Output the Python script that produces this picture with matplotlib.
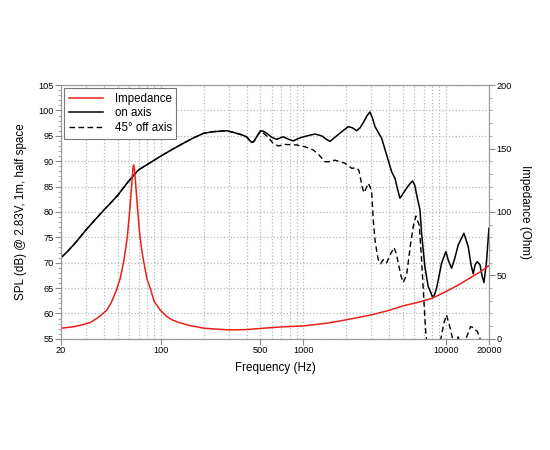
import numpy as np
import matplotlib
matplotlib.use('Agg')
import matplotlib.pyplot as plt
from matplotlib.ticker import FixedLocator, MultipleLocator, NullFormatter

plt.rcParams['font.family'] = ['Liberation Sans', 'DejaVu Sans']

# on axis SPL (dB)
freq_on = [20, 22, 25, 30, 35, 40, 45, 50, 57, 64, 70, 80, 90, 100, 120, 150, 170,
           200, 230, 260, 290, 330, 370, 400, 420, 434, 450, 475, 501, 525, 553,
           600, 650, 690, 723, 790, 850, 910, 972, 1100, 1206, 1343, 1450, 1535,
           1680, 1854, 2065, 2200, 2362, 2500, 2632, 2800, 2930, 3050, 3178, 3540,
           3838, 4160, 4390, 4600, 4757, 5016, 5295, 5600, 5836, 6050, 6226, 6568,
           6740, 7110, 7500, 7800, 8050, 8300, 8590, 9310, 9980, 10400, 10940,
           11500, 12180, 13350, 14300, 15000, 15520, 16000, 16550, 17300, 17900,
           18450, 19200, 20000]
spl_on = [71.0, 72.1, 73.8, 76.5, 78.6, 80.4, 81.9, 83.3, 85.4, 87.1, 88.3, 89.3,
          90.2, 91.0, 92.3, 93.8, 94.6, 95.5, 95.8, 95.9, 96.0, 95.6, 95.2, 94.8,
          94.1, 93.7, 93.9, 95.0, 96.0, 95.9, 95.5, 94.7, 94.3, 94.6, 94.8, 94.3,
          94.0, 94.4, 94.7, 95.1, 95.35, 95.0, 94.3, 93.9, 94.8, 95.8, 96.8, 96.6,
          96.0, 96.6, 97.6, 99.0, 99.7, 98.5, 96.8, 94.5, 91.2, 87.9, 86.6, 84.2,
          82.7, 83.7, 84.7, 85.6, 86.1, 85.2, 83.35, 80.4, 75.8, 69.2, 65.3, 64.2,
          63.2, 63.7, 65.0, 69.9, 72.2, 70.4, 68.9, 70.8, 73.5, 75.8, 73.2, 69.5,
          67.8, 69.6, 70.2, 69.6, 67.4, 66.1, 70.0, 76.8]

# 45 deg off axis, above 500 Hz (below that it follows on axis)
freq_off = [553, 590, 615, 667, 743, 897, 1026, 1173, 1290, 1417, 1530, 1664, 1955,
            2180, 2362, 2450, 2500, 2580, 2656, 2750, 2850, 2950, 3015, 3090, 3178,
            3270, 3350, 3480, 3630, 3838, 4050, 4320, 4480, 4630, 4830, 5016, 5295,
            5650, 5900, 6150, 6490, 6740, 6990, 7220, 7500, 8300, 9000, 9200, 9660,
            10080, 10630, 11100, 11600, 12180, 12800, 13930, 14850, 15300, 15750,
            16550, 17300, 17800]
spl_off = [94.96, 94.1, 93.5, 93.0, 93.3, 93.2, 92.85, 92.2, 91.2, 89.9, 89.9, 90.2,
           89.6, 88.6, 88.7, 88.2, 87.0, 85.0, 83.8, 84.6, 85.65, 84.8, 83.7, 78.4,
           74.5, 72.2, 70.6, 69.8, 70.6, 70.0, 71.5, 73.0, 71.8, 69.9, 67.4, 66.1,
           67.6, 73.8, 77.2, 79.2, 77.4, 70.6, 62.7, 56.1, 52.0, 48.0, 52.0, 55.0,
           58.1, 59.7, 57.4, 55.1, 53.0, 55.4, 53.0, 55.3, 57.4, 57.3, 56.9, 56.5,
           55.1, 53.0]

# impedance (Ohm)
freq_imp = [20, 22, 25, 28, 32, 35, 38, 42, 45, 49, 52, 54.7, 56.5, 58.3, 60.9, 62.9,
            63.8, 64.5, 65.3, 66.4, 68.6, 71.5, 73.8, 76.3, 80, 85.1, 90, 99, 110,
            120, 135, 160, 200, 250, 300, 400, 500, 700, 1000, 1500, 2000, 3000,
            4000, 5000, 6500, 8000, 10000, 12000, 15000, 17500, 20000]
imp = [8.4, 8.9, 9.7, 11.0, 12.8, 15.5, 18.5, 22.8, 28.6, 38.6, 47.8, 59.6, 69.5,
       80.5, 104, 125, 134, 137, 134, 125, 104, 80.5, 69.0, 59.6, 47.5, 38.6, 29.4,
       22.8, 17.6, 15.0, 12.8, 10.5, 8.4, 7.6, 7.1, 7.3, 8.2, 9.4, 10.2, 12.5, 15.0,
       18.9, 22.5, 26.0, 29.0, 32.0, 37.3, 42.0, 48.5, 53.0, 57.7]

xticks = [20, 100, 500, 1000, 10000, 20000]

fig = plt.figure(figsize=(5.5, 4.5), dpi=100)
ax = fig.add_axes([0.111, 0.247, 0.778, 0.564])
ax2 = ax.twinx()

off_f = [f for f in freq_on if f <= 501] + freq_off
off_s = [s for f, s in zip(freq_on, spl_on) if f <= 501] + spl_off

l_imp, = ax2.plot(freq_imp, imp, color='#e8201a', lw=1.1, label='Impedance')
l_on, = ax.plot(freq_on, spl_on, color='black', lw=1.1, label='on axis')
l_off, = ax.plot(off_f, off_s, color='black', lw=1.0, ls=(0, (4, 2.5)), label='45° off axis')

ax.set_xscale('log')
ax.set_xlim(20, 20000)
ax.set_ylim(55, 105)
ax2.set_ylim(0, 200)

minor = [m * 10 ** e for e in range(1, 5) for m in range(1, 10) if 20 <= m * 10 ** e <= 20000]
ax.xaxis.set_major_locator(FixedLocator(xticks))
ax.xaxis.set_minor_locator(FixedLocator(minor))
ax.xaxis.set_minor_formatter(NullFormatter())
ax.set_xticklabels([str(t) for t in xticks])
ax.yaxis.set_major_locator(MultipleLocator(5))
ax.yaxis.set_minor_locator(MultipleLocator(1))
ax2.yaxis.set_major_locator(MultipleLocator(50))
ax2.yaxis.set_minor_locator(MultipleLocator(10))

ax.grid(True, which='both', axis='x', color='#b8b8b8', ls=':', lw=0.9)
ax.grid(True, which='major', axis='y', color='#b8b8b8', ls=':', lw=0.9)
ax.set_axisbelow(True)

for a in (ax, ax2):
    for s in a.spines.values():
        s.set_color('#9a9a9a')
    a.tick_params(which='major', length=4, width=0.8, color='#8a8a8a', labelsize=6.6, pad=1.5)
    a.tick_params(which='minor', length=2, width=0.6, color='#9a9a9a')
ax.tick_params(axis='x', which='minor', length=0)

ax.set_xlabel('Frequency (Hz)', fontsize=8.4, labelpad=5)
ax.set_ylabel('SPL (dB) @ 2.83V, 1m, half space', fontsize=8.4, labelpad=8)
ax2.set_ylabel('Impedance (Ohm)', fontsize=8.4, rotation=270, labelpad=14)

leg = ax.legend([l_imp, l_on, l_off], ['Impedance', 'on axis', '45° off axis'],
                loc='upper left', fontsize=8.3, fancybox=False, framealpha=1,
                edgecolor='#777777', borderaxespad=0.25, handlelength=3.0,
                labelspacing=0.25, borderpad=0.4, handletextpad=1.0)
leg.get_frame().set_linewidth(0.8)

fig.savefig('out.png', dpi=100)
